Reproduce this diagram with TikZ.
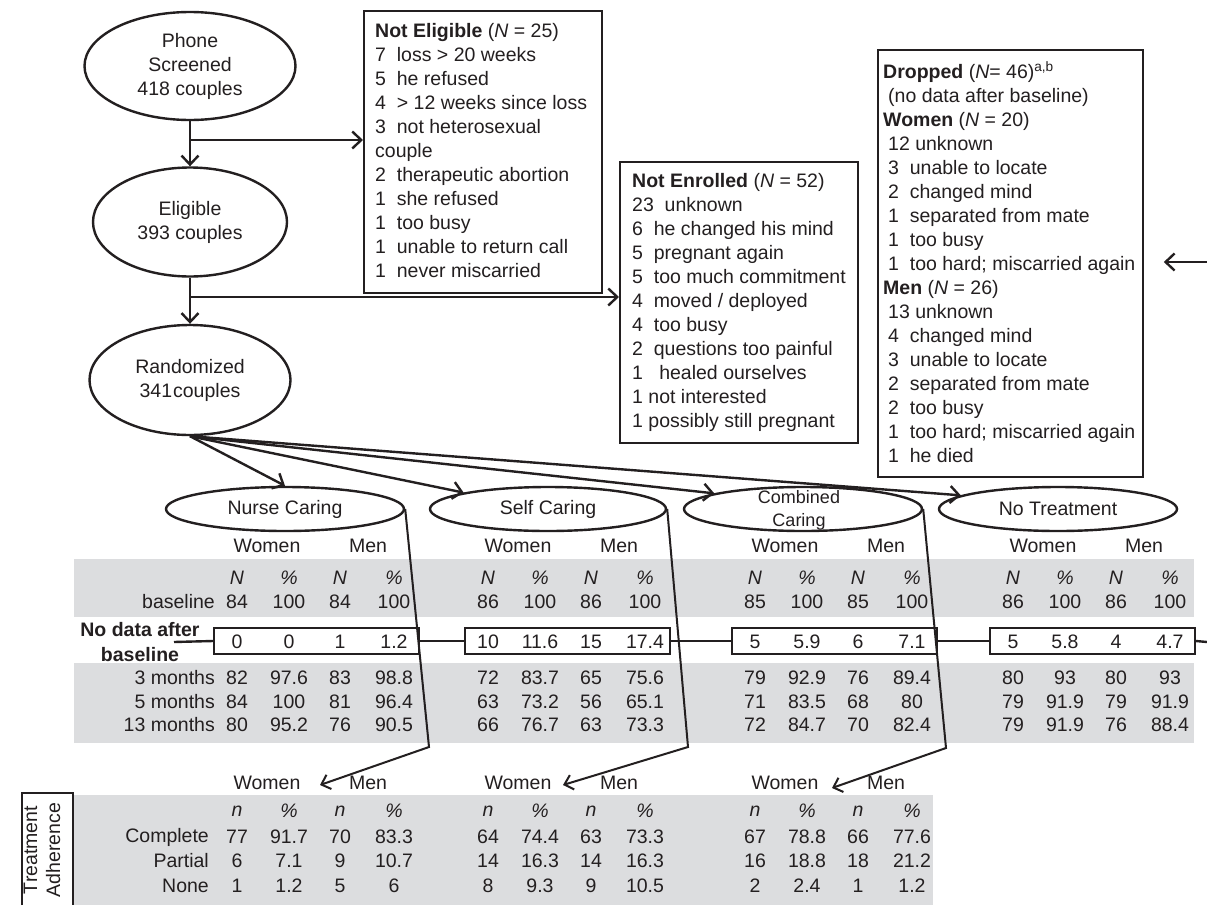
\documentclass[tikz,border=0pt]{standalone}
\usepackage{fontspec}
\setmainfont{Liberation Sans}
\usetikzlibrary{shapes.geometric,arrows.meta,calc}
\definecolor{band}{RGB}{220,221,223}
\definecolor{ink}{RGB}{35,31,32}
\newcommand\myind{\hspace*{5pt}}
\def\colarr{{237,289,340,394,488,540,591,645,755,807,858,912,1013,1065,1116,1170}}
\newcommand\valrow[3]{%
  \foreach \v [count=\i] in {#3} {%
    \pgfmathsetmacro\cx{\colarr[\i-1]}%
    \node (#1-\i) at (\cx,#2) {\v};}}
\begin{document}
\begin{tikzpicture}[x=1pt,y=-1pt,
  every node/.style={text=ink, font=\fontsize{19.5}{24}\selectfont, inner sep=0pt},
  ell/.style={ellipse, draw=ink, line width=2.4pt},
  box/.style={draw=ink, line width=1.8pt, rectangle},
  rowbox/.style={draw=ink, line width=2pt, rectangle, minimum width=205, minimum height=26, anchor=west},
  arr/.style={draw=ink, line width=2.4pt, -{Straight Barb[length=9pt,width=17pt]}},
  thinarr/.style={draw=ink, line width=2pt, -{Straight Barb[length=8pt,width=15pt]}},
  conn/.style={draw=ink, line width=2.4pt},
  lab/.style={anchor=east}]
\useasboundingbox (0,0) rectangle (1207,905);
\fill[white] (0,0) rectangle (1207,905);
% grey bands
\fill[band] (74,559) rectangle (1194,617);
\fill[band] (74,663) rectangle (1194,743);
\fill[band] (74,795) rectangle (933,905);

% top flow
\node[ell, minimum width=211, minimum height=108, align=center] (phone) at (190,66) {Phone\\Screened\\418 couples};
\node[ell, minimum width=194, minimum height=109, align=center] (elig) at (190,222) {Eligible\\393 couples};
\node[ell, minimum width=201, minimum height=110, align=center] (rand) at (190,380) {Randomized\\341\kern1pt couples};

\node[box, minimum width=238, minimum height=282, anchor=north west] (ne) at (363,10) {};
\node[anchor=north west, align=left] (netext) at (375,23) {\textbf{Not Eligible} (\textit{N} = 25)\\
7\ \ loss > 20 weeks\\
5\ \ he refused\\
4\ \ > 12 weeks since loss\\
3\ \ not heterosexual\\
couple\\
2\ \ therapeutic abortion\\
1\ \ she refused\\
1\ \ too busy\\
1\ \ unable to return call\\
1\ \ never miscarried};

\node[box, minimum width=238, minimum height=281, anchor=north west] (nen) at (619,161) {};
\node[anchor=north west, align=left] (nentext) at (632,173) {\textbf{Not Enrolled} (\textit{N} = 52)\\
23\ \ unknown\\
6\ \ he changed his mind\\
5\ \ pregnant again\\
5\ \ too much commitment\\
4\ \ moved / deployed\\
4\ \ too busy\\
2\ \ questions too painful\\
1\ \ \ healed ourselves\\
1 not interested\\
1 possibly still pregnant};

\node[box, minimum width=265, minimum height=427, anchor=north west] (drop) at (877,49) {};
\node[anchor=north west, align=left] (droptext) at (883,61) {\textbf{Dropped} (\textit{N}= 46)\textsuperscript{a,b}\\
\myind(no data after baseline)\\
\textbf{Women} (\textit{N} = 20)\\
\myind 12 unknown\\
\myind 3\ \ unable to locate\\
\myind 2\ \ changed mind\\
\myind 1\ \ separated from mate\\
\myind 1\ \ too busy\\
\myind 1\ \ too hard; miscarried again\\
\textbf{Men} (\textit{N} = 26)\\
\myind 13 unknown\\
\myind 4\ \ changed mind\\
\myind 3\ \ unable to locate\\
\myind 2\ \ separated from mate\\
\myind 2\ \ too busy\\
\myind 1\ \ too hard; miscarried again\\
\myind 1\ \ he died};

\draw[arr] (phone.south) -- (elig.north);
\coordinate (b1) at (190,140);
\draw[arr] (b1) -- (b1 -| ne.west);
\draw[arr] (elig.south) -- (rand.north);
\coordinate (b2) at (190,297);
\draw[arr] (b2) -- (b2 -| nen.west);
\coordinate (dsrc) at (1207,262);
\draw[arr, shorten >=20pt] (dsrc) -- (dsrc -| drop.east);

% treatment arms
\node[ell, minimum width=238, minimum height=44] (nurse) at (285,509) {Nurse Caring};
\node[ell, minimum width=236, minimum height=44] (self) at (548,509) {Self Caring};
\node[ell, minimum width=238, minimum height=44] (comb) at (803,509) {};
\node[align=center, font=\fontsize{18}{23}\selectfont] (combt) at (799,510) {Combined\\Caring};
\node[ell, minimum width=238, minimum height=44] (notx) at (1058,509) {No Treatment};

\draw[arr] (rand.south) -- (nurse.north);
\draw[arr] (rand.south) -- (self.169);
\draw[arr] (rand.south) -- (comb.170);
\draw[arr] (rand.south) -- (notx.172);

% upper table headers
\foreach \b [count=\g] in {237,488,755,1013} {
  \node (hw\g) at (\b+30,546) {Women};
  \node (hm\g) at (\b+131,546) {Men};
}
\foreach \i in {1,...,16} {
  \pgfmathsetmacro\cx{\colarr[\i-1]}
  \ifodd\i \node (nh\i) at (\cx,578) {\textit{N}}; \else \node (nh\i) at (\cx,578) {\textit{\%}}; \fi
}
\node[lab] (lbase) at (215,602) {baseline};
\valrow{vb}{602}{84,100,84,100,86,100,86,100,85,100,85,100,86,100,86,100}

% no data row
\foreach \b [count=\g] in {237,488,755,1013} {
  \node[rowbox] (nd\g) at (\b-24,641) {};
}
\valrow{vn}{642}{0,0,1,1.2,10,11.6,15,17.4,5,5.9,6,7.1,5,5.8,4,4.7}
\node[align=center, font=\fontsize{19.5}{25}\selectfont\bfseries] (ndlab) at (140,642) {No data after\\baseline};
\coordinate (ndl) at (174,642);
\coordinate (ndr) at (1207,642);
\draw[conn] (ndl) -- (nd1.west);
\draw[conn] (nd1.east) -- (nd2.west);
\draw[conn] (nd2.east) -- (nd3.west);
\draw[conn] (nd3.east) -- (nd4.west);
\draw[conn] (nd4.east) -- (ndr);

% follow-up rows
\node[lab] (l3) at (215,678) {3 months};
\node[lab] (l5) at (215,702) {5 months};
\node[lab] (l13) at (215,725) {13 months};
\valrow{v3}{678}{82,97.6,83,98.8,72,83.7,65,75.6,79,92.9,76,89.4,80,93,80,93}
\valrow{v5}{702}{84,100,81,96.4,63,73.2,56,65.1,71,83.5,68,80,79,91.9,79,91.9}
\valrow{v13}{725}{80,95.2,76,90.5,66,76.7,63,73.3,72,84.7,70,82.4,79,91.9,76,88.4}

% descending arrows to adherence tables
\coordinate (k1) at (429,747); \coordinate (a1) at (320,785);
\coordinate (k2) at (688,747); \coordinate (a2) at (563,785);
\coordinate (k3) at (946,748); \coordinate (a3) at (832,788);
\draw[thinarr] (nurse.east) -- (k1) -- (a1);
\draw[thinarr] (self.east) -- (k2) -- (a2);
\draw[thinarr] (comb.east) -- (k3) -- (a3);

% lower table
\foreach \b [count=\g] in {237,488,755} {
  \node (lw\g) at (\b+30,783) {Women};
  \node (lm\g) at (\b+131,783) {Men};
}
\foreach \i in {1,...,12} {
  \pgfmathsetmacro\cx{\colarr[\i-1]}
  \ifodd\i \node (nl\i) at (\cx,811) {\textit{n}}; \else \node (nl\i) at (\cx,811) {\textit{\%}}; \fi
}
\node[lab] (lc) at (209,837) {Complete};
\node[lab] (lp) at (209,861) {Partial};
\node[lab] (ln) at (209,886) {None};
\valrow{vc}{837}{77,91.7,70,83.3,64,74.4,63,73.3,67,78.8,66,77.6}
\valrow{vp}{861}{6,7.1,9,10.7,14,16.3,14,16.3,16,18.8,18,21.2}
\valrow{vo}{886}{1,1.2,5,6,8,9.3,9,10.5,2,2.4,1,1.2}

\draw[draw=ink, line width=1.8pt] (22,905) -- (22,793) -- (73,793) -- (73,905);
\node[rotate=90, align=center, font=\fontsize{19.5}{23}\selectfont] (ta) at (42,850) {Treatment\\Adherence};
\end{tikzpicture}
\end{document}
